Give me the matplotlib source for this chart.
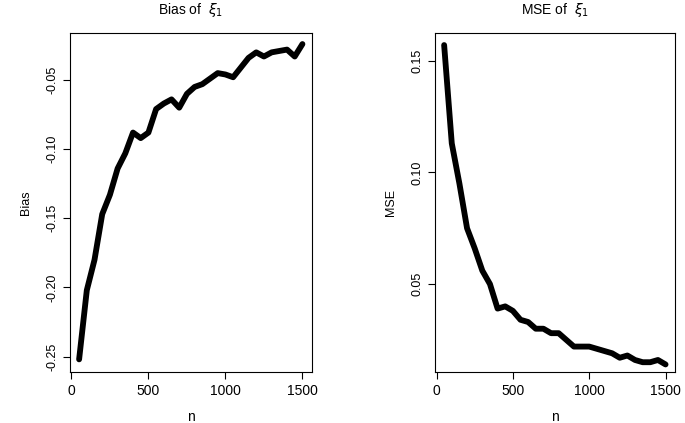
import numpy as np
import matplotlib
matplotlib.use("Agg")
import matplotlib.pyplot as plt

plt.rcParams["font.family"] = "Liberation Sans"

n = list(range(50, 1501, 50))
bias = [-0.252, -0.202, -0.180, -0.147, -0.133, -0.114, -0.103, -0.088, -0.092, -0.088,
        -0.071, -0.067, -0.064, -0.070, -0.060, -0.055, -0.053, -0.049, -0.045, -0.046,
        -0.048, -0.041, -0.034, -0.030, -0.033, -0.030, -0.029, -0.028, -0.033, -0.024]
mse = [0.157, 0.113, 0.095, 0.075, 0.066, 0.056, 0.050, 0.039, 0.040, 0.038,
       0.034, 0.033, 0.030, 0.030, 0.028, 0.028, 0.025, 0.022, 0.022, 0.022,
       0.021, 0.020, 0.019, 0.017, 0.018, 0.016, 0.015, 0.015, 0.016, 0.014]
bias_ticks = [-0.25, -0.20, -0.15, -0.10, -0.05]
mse_ticks = [0.05, 0.10, 0.15]
x_ticks = [0, 500, 1000, 1500]

fig = plt.figure(figsize=(6.85, 4.23), dpi=100)
ax1 = fig.add_axes([0.102, 0.121, 0.353, 0.801])
ax2 = fig.add_axes([0.635, 0.121, 0.350, 0.801])

def style(ax, y, ticks, ylabel, title):
    ax.plot(n, y, color="black", lw=4.2, solid_capstyle="round", solid_joinstyle="round")
    ax.set_xticks(x_ticks)
    ax.set_xticklabels([str(t) for t in x_ticks], fontsize=10)
    ax.set_yticks(ticks)
    ax.set_yticklabels(["%.2f" % t for t in ticks], rotation=90, va="center", fontsize=9)
    ax.set_xlabel("n", fontsize=10, labelpad=9)
    ax.set_ylabel(ylabel, fontsize=9, labelpad=10)
    ax.set_title(title, fontsize=10, pad=14)
    ax.set_xlim(-10, 1560)
    for s in ax.spines.values():
        s.set_linewidth(0.8)
    ax.tick_params(length=5, width=0.8)

style(ax1, bias, bias_ticks, "Bias", r"Bias of  $\xi_1$")
ax1.set_ylim(-0.261, -0.016)
style(ax2, mse, mse_ticks, "MSE", r"MSE of  $\xi_1$")
ax2.set_ylim(0.0107, 0.1624)

fig.savefig("out.png", dpi=100)
